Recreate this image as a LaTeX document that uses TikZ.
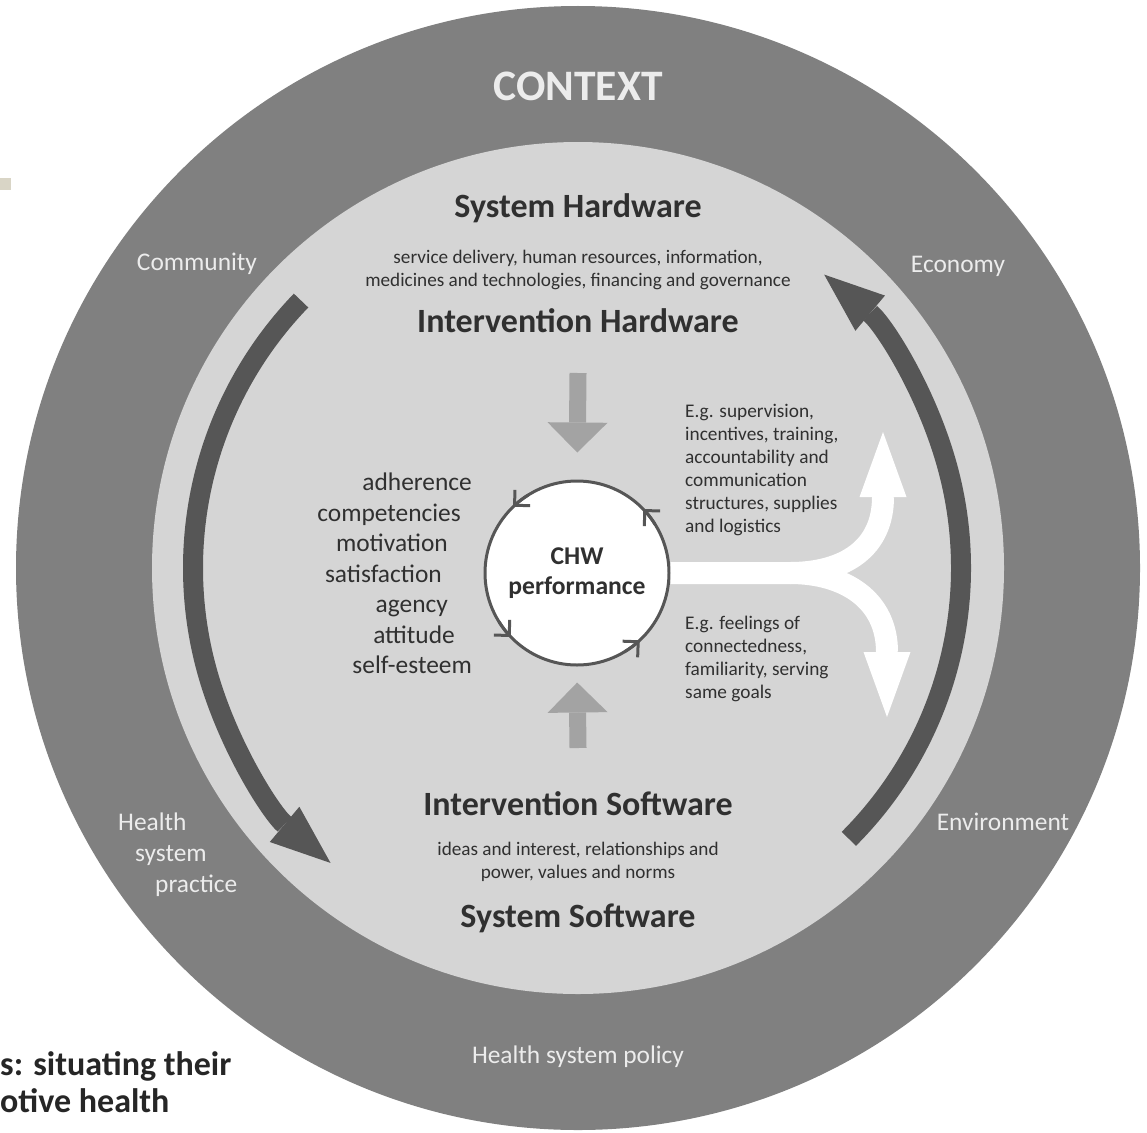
\documentclass[tikz,border=0pt]{standalone}
\usepackage{fontspec}
\setmainfont{Carlito}
\usetikzlibrary{arrows.meta}

\definecolor{ringgray}{HTML}{808080}
\definecolor{innergray}{HTML}{D5D5D5}
\definecolor{arcdark}{HTML}{565656}
\definecolor{pointergray}{HTML}{A3A3A3}
\definecolor{ringtext}{HTML}{ECECEC}
\definecolor{bodytext}{HTML}{303030}
\definecolor{beigepatch}{HTML}{D9D5C6}

\tikzset{
  ringlabel/.style={text=ringtext, inner sep=0pt, anchor=base, font=\fontsize{25.4}{31}\selectfont},
  contextlabel/.style={text=ringtext, inner sep=0pt, anchor=base, font=\bfseries\fontsize{43.5}{48}\selectfont},
  heading/.style={text=bodytext, inner sep=0pt, anchor=base, font=\bfseries\fontsize{34}{40}\selectfont},
  smalltext/.style={text=bodytext, inner sep=0pt, anchor=base, align=center, font=\fontsize{19.2}{23}\selectfont},
  listitem/.style={text=bodytext, inner sep=0pt, anchor=base east, font=\fontsize{25.4}{31}\selectfont},
  egtext/.style={text=bodytext, inner sep=0pt, anchor=base west, align=left, font=\fontsize{19.3}{23}\selectfont},
  captiontext/.style={text=black!85, inner sep=0pt, anchor=base west, align=left, font=\bfseries\fontsize{34}{37}\selectfont},
  chwcircle/.style={circle, draw=arcdark, line width=3pt, fill=white, minimum size=184pt, inner sep=0pt,
    align=center, text=bodytext, font=\bfseries\fontsize{25.6}{30}\selectfont},
  bigarc/.style={draw=arcdark, line width=20pt, -{Triangle[length=60pt,width=46pt,line width=0pt]}},
  pointer/.style={draw=pointergray, line width=17pt, -{Triangle[length=30pt,width=60pt,line width=0pt]}},
  forkline/.style={draw=white, line width=22pt, -{Triangle[length=65pt,width=47pt,line width=0pt]}},
  circtip/.style={draw=arcdark, line width=3pt, -{Straight Barb[length=11pt,width=22pt]}}
}

\begin{document}
\begin{tikzpicture}[x=1pt,y=-1pt]
    \useasboundingbox (0,0) rectangle (1147,1132);
    \fill[white] (0,0) rectangle (1147,1132);
    \fill[beigepatch] (0,178) rectangle (11,190);
    \coordinate (hub) at (578,568);
    \fill[ringgray] (hub) circle[radius=562];
    \fill[innergray] (hub) circle[radius=426];

    % cycle arrows in the light disc
    \draw[bigarc] (hub) ++(224:385) arc[start angle=224, end angle=130, radius=385];
    \draw[bigarc] (hub) ++(45:383) arc[start angle=45, end angle=-50, radius=383];

    % context ring (multi-line nodes sit on their last baseline)
    \node[contextlabel] (context) at (578,100) {CONTEXT};
    \node[ringlabel] (community) at (197,270) {Community};
    \node[ringlabel] (economy) at (958,272) {Economy};
    \node[ringlabel] (environment) at (1003,830) {Environment};
    \node[ringlabel, anchor=base west, align=left] (hsprac) at (118,892) {Health\\\hspace*{17pt}system\\\hspace*{37pt}practice};
    \node[ringlabel] (hspolicy) at (578,1063) {Health system policy};

    % hardware / software
    \node[heading] (syshw) at (578,217) {System Hardware};
    \node[smalltext] (hwlist) at (578,286) {service delivery, human resources, information,\\medicines and technologies, financing and governance};
    \node[heading] (inthw) at (578,332) {Intervention Hardware};
    \node[heading] (intsw) at (578,815) {Intervention Software};
    \node[smalltext] (swlist) at (578,878) {ideas and interest, relationships and\\power, values and norms};
    \node[heading] (syssw) at (578,927) {System Software};

    % attributes
    \node[listitem] (adherence) at (472,490) {adherence};
    \node[listitem] (competencies) at (461,521) {competencies};
    \node[listitem] (motivation) at (448,551) {motivation};
    \node[listitem] (satisfaction) at (442,582) {satisfaction};
    \node[listitem] (agency) at (448,612) {agency};
    \node[listitem] (attitude) at (455,643) {attitude};
    \node[listitem] (selfesteem) at (472,673) {self-esteem};

    \node[chwcircle] (chw) at (577,573) {CHW\\performance};
    \foreach \a in {47,136,226,316}
        \draw[circtip] (chw.center) ++({\a+12}:92) arc[start angle=\a+12, end angle=\a, radius=92];

    \node[egtext] (egupper) at (685,532) {E.g. supervision,\\incentives, training,\\accountability and\\communication\\structures, supplies\\and logistics};
    \node[egtext] (eglower) at (685,698) {E.g. feelings of\\connectedness,\\familiarity, serving\\same goals};

    % pointers into CHW performance
    \coordinate (hwfoot) at (578,373);
    \coordinate (swfoot) at (578,748);
    \draw[pointer, shorten >=27pt] (hwfoot) -- (chw.north);
    \draw[pointer, shorten >=16pt] (swfoot) -- (chw.south);

    % white fork
    \coordinate (forksplit) at (790,573);
    \coordinate (uptip) at (883,432);
    \coordinate (downtip) at (887,717);
    \draw[forkline] (chw.east) -- (forksplit) .. controls (845,573) and (883,548) .. (uptip);
    \draw[forkline] (forksplit) .. controls (845,573) and (887,600) .. (downtip);

    \node[captiontext] (caption) at (0,1112) {s: situating their\\otive health};
\end{tikzpicture}
\end{document}
